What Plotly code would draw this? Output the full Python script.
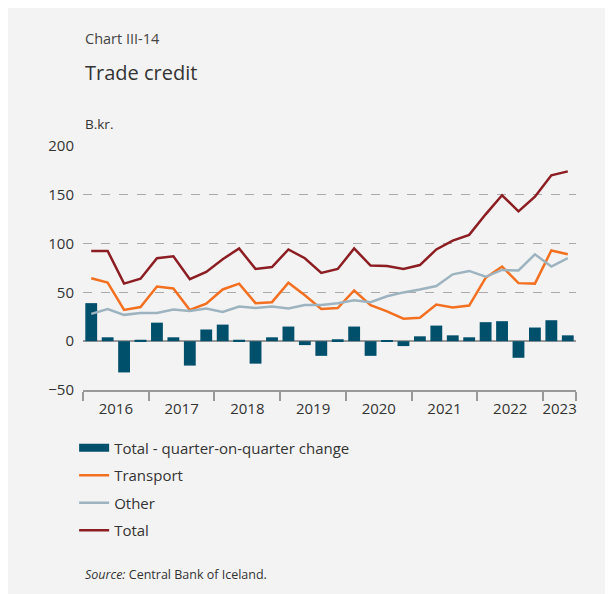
import plotly.graph_objects as go

quarters = [f"{y}Q{q}" for y in range(2016, 2024) for q in range(1, 5)][:30]
years = ["2016", "2017", "2018", "2019", "2020", "2021", "2022", "2023"]

qoq_change = [39, 4, -32, 1.5, 19, 4, -25, 12, 17, 1.5, -23, 4, 15, -4, -15, 2,
              15, -15, 0.5, -5, 5, 16, 6, 4, 19.5, 20.5, -17, 14, 21.5, 6]
transport = [64.5, 60, 32, 35, 56, 54, 32, 38.5, 53, 59, 39, 40, 60, 47, 33, 34,
             52, 37, 30.5, 23, 24, 37.5, 34.5, 36.5, 65, 76.5, 59.5, 59, 93, 89]
other = [28, 33, 27, 29, 29, 32.5, 31, 33.5, 30, 35.5, 34, 35.5, 33.5, 37, 37, 39,
         42, 40, 46, 50, 53, 56.5, 68.5, 72, 66, 73, 72.5, 89, 76.5, 85]
total = [92.5, 92.5, 59, 64, 85, 87, 63.5, 71, 84, 95, 74, 76, 94, 85, 70, 74,
         95, 77.5, 77, 74, 78, 94, 103, 109, 130, 149.5, 133, 148, 170, 174]

x = list(range(len(quarters)))
year_bounds = [-0.5 + 4 * i for i in range(8)] + [len(quarters) - 0.5]
year_mids = [(year_bounds[i] + year_bounds[i + 1]) / 2 for i in range(8)]

font = "Open Sans, sans-serif"
txt = "#333333"
bar_col = "#004f6b"

fig = go.Figure()
fig.add_bar(x=x, y=qoq_change, name="Total - quarter-on-quarter change",
            marker_color=bar_col, marker_line_width=0, width=0.72,
            showlegend=False)
# legend key drawn as a thick bar like the original
fig.add_scatter(x=[None], y=[None], name="Total - quarter-on-quarter change",
                mode="lines", line=dict(color=bar_col, width=8), legendgroup="a")
fig.add_scatter(x=x, y=transport, name="Transport", mode="lines",
                line=dict(color="#f37021", width=2.5), legendgroup="b")
fig.add_scatter(x=x, y=other, name="Other", mode="lines",
                line=dict(color="#9db4c0", width=2.5), legendgroup="c")
fig.add_scatter(x=x, y=total, name="Total", mode="lines",
                line=dict(color="#8c1d22", width=2.5), legendgroup="d")

fig.update_layout(
    width=605, height=586,
    paper_bgcolor="#f3f3f3", plot_bgcolor="#f3f3f3",
    font=dict(family=font, color=txt, size=15),
    margin=dict(l=75, r=37, t=138, b=204),
    showlegend=True,
    legend=dict(x=-0.018, xanchor="left", y=-0.17, yanchor="top",
                font=dict(size=15, color=txt), tracegroupgap=5,
                bgcolor="rgba(0,0,0,0)"),
)
fig.update_xaxes(
    range=[-0.5, len(quarters) - 0.5],
    tickmode="array", tickvals=year_mids, ticktext=years, ticks="",
    ticklabelstandoff=4,
    showgrid=False, zeroline=False,
    showline=True, linecolor="#999999", linewidth=1.5,
    tickfont=dict(size=15, color=txt),
    minor=dict(tickmode="array", tickvals=year_bounds, ticks="outside",
               ticklen=9, tickcolor="#999999", tickwidth=1.5, showgrid=False),
)
fig.update_yaxes(
    range=[-50, 200], tickvals=[-50, 0, 50, 100, 150, 200],
    showgrid=True, gridcolor="#aaaaaa", griddash="dash", gridwidth=1,
    zeroline=True, zerolinecolor="#999999", zerolinewidth=1.5,
    ticks="", ticklabelstandoff=8, tickfont=dict(size=15, color=txt),
)

fig.add_annotation(text="Chart III-14", xref="paper", yref="paper", x=0, y=1,
                   yshift=108, xanchor="left", yanchor="middle", showarrow=False,
                   font=dict(size=14.5, color="#444444"))
fig.add_annotation(text="Trade credit", xref="paper", yref="paper", x=0, y=1,
                   yshift=74, xanchor="left", yanchor="middle", showarrow=False,
                   font=dict(size=20, color="#333333"))
fig.add_annotation(text="B.kr.", xref="paper", yref="paper", x=0, y=1,
                   yshift=22, xanchor="left", yanchor="middle", showarrow=False,
                   font=dict(size=13.5, color=txt))
fig.add_annotation(text="<i>Source:</i> Central Bank of Iceland.", xref="paper",
                   yref="paper", x=0, y=0, yshift=-184, xanchor="left",
                   yanchor="middle", showarrow=False,
                   font=dict(size=12.5, color=txt))

fig.write_html("out.html")
